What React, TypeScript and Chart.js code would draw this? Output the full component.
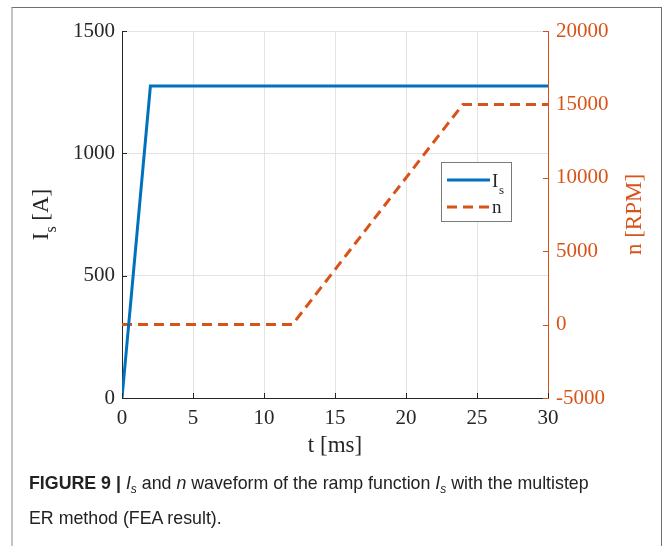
import React, { useEffect, useRef } from "react";
import { Chart, registerables } from "chart.js";

Chart.register(...registerables);

// Data
const isTime = [0, 2, 30];
const isValues = [0, 1275, 1275];
const nTime = [0, 12, 24, 30];
const nValues = [0, 0, 15000, 15000];
const xTicks = [0, 5, 10, 15, 20, 25, 30];
const leftTicks = [0, 500, 1000, 1500];
const rightTicks = [-5000, 0, 5000, 10000, 15000, 20000];

const BLUE = "#0072BD";
const ORANGE = "#D95319";
const AXIS = "#262626";
const SERIF = "'Liberation Serif', 'Times New Roman', serif";

const W = 663;
const H = 470;
const PLOT_LEFT = 122;
const PLOT_RIGHT = 548;
const PLOT_TOP = 31;
const PLOT_BOTTOM = 398;

const sketchPlugin = {
  id: "sketch",
  afterDatasetsDraw(chart: any) {
    const { ctx, chartArea: ca, scales } = chart;
    const x = scales.x;
    const yl = scales.yL;
    const yr = scales.yR;
    ctx.save();
    // inward ticks
    ctx.lineWidth = 1;
    ctx.strokeStyle = AXIS;
    ctx.beginPath();
    xTicks.forEach((t) => {
      const px = Math.round(x.getPixelForValue(t)) + 0.5;
      ctx.moveTo(px, ca.bottom);
      ctx.lineTo(px, ca.bottom - 5);
    });
    leftTicks.forEach((t) => {
      const py = Math.round(yl.getPixelForValue(t)) + 0.5;
      ctx.moveTo(ca.left, py);
      ctx.lineTo(ca.left + 5, py);
    });
    ctx.stroke();
    ctx.strokeStyle = ORANGE;
    ctx.beginPath();
    rightTicks.forEach((t) => {
      const py = Math.round(yr.getPixelForValue(t)) + 0.5;
      ctx.moveTo(ca.right, py);
      ctx.lineTo(ca.right - 5, py);
    });
    ctx.stroke();

    // Legend box
    const lx = 441, ly = 162, lw = 70, lh = 59;
    ctx.fillStyle = "#ffffff";
    ctx.fillRect(lx, ly, lw, lh);
    ctx.strokeStyle = "#7a7a7a";
    ctx.lineWidth = 1;
    ctx.strokeRect(lx + 0.5, ly + 0.5, lw, lh);
    const ds0 = chart.data.datasets[0];
    const ds1 = chart.data.datasets[1];
    ctx.lineWidth = 3;
    ctx.strokeStyle = ds0.borderColor;
    ctx.setLineDash([]);
    ctx.beginPath();
    ctx.moveTo(lx + 6, ly + 18);
    ctx.lineTo(lx + 49, ly + 18);
    ctx.stroke();
    ctx.strokeStyle = ds1.borderColor;
    ctx.setLineDash(ds1.borderDash);
    ctx.beginPath();
    ctx.moveTo(lx + 6, ly + 45);
    ctx.lineTo(lx + 49, ly + 45);
    ctx.stroke();
    ctx.setLineDash([]);
    ctx.fillStyle = AXIS;
    ctx.textBaseline = "alphabetic";
    ctx.textAlign = "left";
    ctx.font = `19px ${SERIF}`;
    ctx.fillText("I", lx + 51, ly + 25);
    ctx.font = `13px ${SERIF}`;
    ctx.fillText("s", lx + 58, ly + 32);
    ctx.font = `19px ${SERIF}`;
    ctx.fillText("n", lx + 51, ly + 51);

    // Axis titles
    ctx.font = `23px ${SERIF}`;
    ctx.fillStyle = AXIS;
    ctx.textAlign = "center";
    ctx.textBaseline = "middle";
    ctx.fillText("t [ms]", (ca.left + ca.right) / 2, 446);

    // Left title: I_s [A]
    const cy = (ca.top + ca.bottom) / 2;
    ctx.save();
    ctx.translate(48, cy);
    ctx.rotate(-Math.PI / 2);
    ctx.textAlign = "left";
    ctx.textBaseline = "alphabetic";
    ctx.font = `23px ${SERIF}`;
    const wI = ctx.measureText("I").width;
    ctx.font = `16px ${SERIF}`;
    const wS = ctx.measureText("s").width;
    ctx.font = `23px ${SERIF}`;
    const wA = ctx.measureText(" [A]").width;
    const total = wI + wS + wA;
    let sx = -total / 2;
    ctx.fillText("I", sx, 0);
    sx += wI;
    ctx.font = `16px ${SERIF}`;
    ctx.fillText("s", sx, 8);
    sx += wS;
    ctx.font = `23px ${SERIF}`;
    ctx.fillText(" [A]", sx, 0);
    ctx.restore();

    // Right title
    ctx.save();
    ctx.translate(635, cy);
    ctx.rotate(-Math.PI / 2);
    ctx.fillStyle = ORANGE;
    ctx.textAlign = "center";
    ctx.textBaseline = "middle";
    ctx.font = `23px ${SERIF}`;
    ctx.fillText("n [RPM]", 0, 0);
    ctx.restore();

    ctx.restore();
  },
};

function ChartView() {
  const ref = useRef<HTMLCanvasElement>(null);
  useEffect(() => {
    if (!ref.current) return;
    const chart = new Chart(ref.current, {
      type: "line",
      data: {
        datasets: [
          {
            label: "Is",
            data: isTime.map((t, i) => ({ x: t, y: isValues[i] })),
            borderColor: BLUE,
            borderWidth: 3,
            pointRadius: 0,
            fill: false,
            tension: 0,
            yAxisID: "yL",
          },
          {
            label: "n",
            data: nTime.map((t, i) => ({ x: t, y: nValues[i] })),
            borderColor: ORANGE,
            borderWidth: 3,
            borderDash: [10, 6],
            pointRadius: 0,
            fill: false,
            tension: 0,
            yAxisID: "yR",
          },
        ],
      },
      options: {
        animation: false,
        responsive: false,
        layout: { padding: { top: PLOT_TOP, left: 0, right: 0, bottom: 0 } },
        plugins: {
          legend: { display: false },
          tooltip: { enabled: false },
        },
        scales: {
          x: {
            type: "linear",
            min: 0,
            max: 30,
            afterBuildTicks: (s: any) => {
              s.ticks = xTicks.map((v) => ({ value: v }));
            },
            afterFit: (s: any) => {
              s.height = H - PLOT_BOTTOM;
            },
            ticks: {
              color: AXIS,
              font: { family: SERIF, size: 21 },
              padding: 8,
              maxRotation: 0,
              callback: (v: any) => String(v),
            },
            grid: { color: "#e3e3e3", drawTicks: false, lineWidth: 1 },
            border: { display: true, color: AXIS, width: 1 },
          },
          yL: {
            type: "linear",
            position: "left",
            min: 0,
            max: 1500,
            afterBuildTicks: (s: any) => {
              s.ticks = leftTicks.map((v) => ({ value: v }));
            },
            afterFit: (s: any) => {
              s.width = PLOT_LEFT;
            },
            ticks: {
              color: AXIS,
              font: { family: SERIF, size: 21 },
              padding: 7,
              callback: (v: any) => String(v),
            },
            grid: { color: "#e3e3e3", drawTicks: false, lineWidth: 1 },
            border: { display: true, color: AXIS, width: 1 },
          },
          yR: {
            type: "linear",
            position: "right",
            min: -5000,
            max: 20000,
            afterBuildTicks: (s: any) => {
              s.ticks = rightTicks.map((v) => ({ value: v }));
            },
            afterFit: (s: any) => {
              s.width = W - PLOT_RIGHT;
            },
            ticks: {
              color: ORANGE,
              font: { family: SERIF, size: 21 },
              padding: 8,
              callback: (v: any) => String(v),
            },
            grid: { display: false, drawTicks: false },
            border: { display: true, color: ORANGE, width: 1 },
          },
        },
      },
      plugins: [sketchPlugin],
    });
    return () => chart.destroy();
  }, []);
  return (
    <canvas
      ref={ref}
      width={W}
      height={H}
      style={{ position: "absolute", left: 0, top: 0, width: W, height: H }}
    />
  );
}

const subStyle: React.CSSProperties = {
  fontSize: 12,
  position: "relative",
  top: 4,
  fontStyle: "italic",
};

export default function App() {
  return (
    <div
      style={{
        position: "absolute",
        left: 0,
        top: 0,
        width: W,
        height: 546,
        overflow: "hidden",
        background: "#ffffff",
      }}
    >
      <div
        style={{
          position: "absolute",
          left: 11,
          top: 7,
          width: 648,
          height: 560,
          borderTop: "1.5px solid #707070",
          borderRight: "1.5px solid #707070",
          borderLeft: "2px solid #c4c4c4",
        }}
      />
      <ChartView />
      <div
        style={{
          position: "absolute",
          left: 29,
          top: 467,
          fontFamily: "'Liberation Sans', Arial, sans-serif",
          fontSize: 17.8,
          lineHeight: "33px",
          color: "#222222",
          whiteSpace: "nowrap",
        }}
      >
        <div>
          <b>FIGURE 9 |</b> <i>I</i>
          <span style={subStyle}>s</span> and <i>n</i> waveform of the ramp
          function <i>I</i>
          <span style={subStyle}>s</span> with the multistep
        </div>
        <div>ER method (FEA result).</div>
      </div>
    </div>
  );
}
